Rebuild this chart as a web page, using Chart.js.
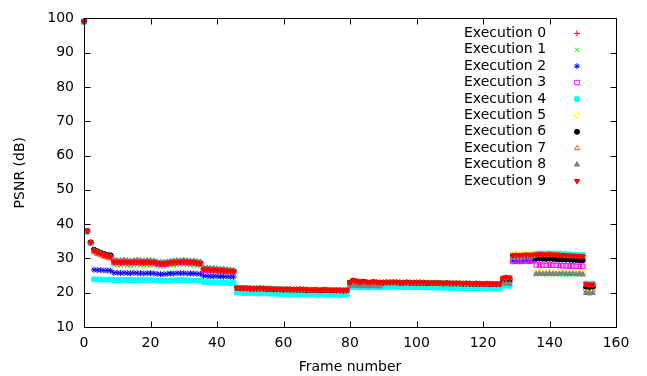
<!DOCTYPE html>
<html>
<head>
<meta charset="utf-8">
<script src="https://cdn.jsdelivr.net/npm/chart.js"></script>
<style>
html, body { margin: 0; padding: 0; background: #fff; }
</style>
</head>
<body>
<canvas id="psnrChart" width="647" height="376"></canvas>
<script>
// Frame numbers (x axis)
var frames = [0, 1, 2, 3, 4, 5, 6, 7, 8, 9,
  10, 11, 12, 13, 14, 15, 16, 17, 18, 19,
  20, 21, 22, 23, 24, 25, 26, 27, 28, 29,
  30, 31, 32, 33, 34, 35, 36, 37, 38, 39,
  40, 41, 42, 43, 44, 45, 46, 47, 48, 49,
  50, 51, 52, 53, 54, 55, 56, 57, 58, 59,
  60, 61, 62, 63, 64, 65, 66, 67, 68, 69,
  70, 71, 72, 73, 74, 75, 76, 77, 78, 79,
  80, 81, 82, 83, 84, 85, 86, 87, 88, 89,
  90, 91, 92, 93, 94, 95, 96, 97, 98, 99,
  100, 101, 102, 103, 104, 105, 106, 107, 108, 109,
  110, 111, 112, 113, 114, 115, 116, 117, 118, 119,
  120, 121, 122, 123, 124, 125, 126, 127, 128, 129,
  130, 131, 132, 133, 134, 135, 136, 137, 138, 139,
  140, 141, 142, 143, 144, 145, 146, 147, 148, 149,
  150, 151, 152, 153];

// PSNR per frame, one array per execution
var exec0 = [99.1, 38.0, 34.6, 32.4, 31.9, 31.5, 31.1, 30.8, 30.6,
  29.1, 29.0, 29.0, 29.1, 29.0, 28.9, 29.0, 29.1, 29.0, 28.9, 29.0, 29.0, 28.9,
  28.6, 28.5, 28.5, 28.6,
  28.8, 28.9, 29.0, 29.0, 29.1, 29.0, 28.9, 28.9,
  28.7, 28.6,
  26.8, 26.8, 26.7, 26.7, 26.6, 26.5, 26.5, 26.4, 26.3, 26.2,
  21.4, 21.4, 21.3, 21.3, 21.3, 21.2, 21.2, 21.3, 21.2, 21.2,
  21.1, 21.1, 21.0, 21.0, 21.0, 21.0, 20.9, 20.9, 20.9, 21.0,
  20.9, 20.9, 20.8, 20.8, 20.8, 20.8, 20.9, 20.8, 20.8, 20.7,
  20.7, 20.7, 20.7, 20.8,
  23.0, 23.6, 23.4, 23.2, 23.3, 23.1, 23.0, 23.2, 23.1, 23.0,
  23.0, 23.0, 23.0, 23.1, 23.0, 23.0, 22.9, 23.0, 23.0, 22.9,
  23.0, 23.0, 22.9, 22.9, 22.9, 22.8, 22.9, 22.8, 22.8, 22.8,
  22.8, 22.7, 22.8, 22.7, 22.7, 22.7, 22.7, 22.6, 22.7, 22.6,
  22.6, 22.6, 22.6, 22.6, 22.5, 22.6,
  24.2, 24.4, 24.3,
  30.8, 30.9, 30.8, 30.9, 31.0, 30.9, 31.0,
  31.2, 31.3, 31.3, 31.2, 31.3, 31.2, 31.2, 31.1, 31.0, 31.0, 30.9, 30.9, 30.8, 30.8, 30.7,
  22.6, 22.4, 22.5];

var exec1 = [99.0, 37.9, 34.5, 32.2, 31.7, 31.3, 30.9, 30.6, 30.4,
  28.1, 28.0, 28.0, 28.1, 28.0, 27.9, 28.0, 28.1, 28.0, 27.9, 28.0, 28.0, 27.9,
  27.7, 27.6, 27.6, 27.7,
  27.9, 28.0, 28.1, 28.1, 28.2, 28.1, 28.0, 28.0,
  27.8, 27.7,
  26.4, 26.4, 26.3, 26.3, 26.2, 26.1, 26.1, 26.0, 25.9, 25.8,
  21.3, 21.3, 21.2, 21.2, 21.2, 21.1, 21.1, 21.2, 21.1, 21.1,
  21.0, 21.0, 20.9, 20.9, 20.9, 20.9, 20.8, 20.8, 20.8, 20.9,
  20.8, 20.8, 20.7, 20.7, 20.7, 20.7, 20.8, 20.7, 20.7, 20.6,
  20.6, 20.6, 20.6, 20.7,
  22.7, 23.0, 22.9, 22.8, 22.8, 22.7, 22.6, 22.8, 22.7, 22.6,
  22.9, 22.9, 22.9, 23.0, 22.9, 22.9, 22.8, 22.9, 22.9, 22.8,
  22.9, 22.9, 22.8, 22.8, 22.8, 22.7, 22.8, 22.7, 22.7, 22.7,
  22.7, 22.6, 22.7, 22.6, 22.6, 22.6, 22.6, 22.5, 22.6, 22.5,
  22.5, 22.5, 22.5, 22.5, 22.4, 22.5,
  22.9, 23.1, 23.0,
  30.4, 30.5, 30.4, 30.5, 30.6, 30.5, 30.6,
  25.3, 25.4, 25.3, 25.3, 25.4, 25.3, 25.3, 25.2, 25.3, 25.2, 25.2, 25.3, 25.2, 25.2, 25.1,
  20.1, 20.0, 20.1];

var exec2 = [99.0, 37.9, 34.5, 26.7, 26.6, 26.6, 26.5, 26.5, 26.4,
  25.8, 25.8, 25.7, 25.8, 25.7, 25.7, 25.8, 25.7, 25.7, 25.6, 25.7, 25.7, 25.6,
  25.5, 25.4, 25.4, 25.5,
  25.6, 25.6, 25.7, 25.7, 25.7, 25.6, 25.6, 25.6,
  25.5, 25.5,
  24.9, 24.9, 24.8, 24.8, 24.8, 24.7, 24.7, 24.7, 24.6, 24.6,
  21.0, 21.0, 20.9, 20.9, 20.9, 20.8, 20.8, 20.9, 20.8, 20.8,
  20.7, 20.7, 20.7, 20.6, 20.6, 20.6, 20.6, 20.6, 20.5, 20.6,
  20.5, 20.5, 20.5, 20.4, 20.4, 20.4, 20.5, 20.4, 20.4, 20.4,
  20.3, 20.3, 20.3, 20.4,
  22.3, 22.6, 22.5, 22.4, 22.4, 22.3, 22.3, 22.4, 22.3, 22.3,
  22.5, 22.5, 22.5, 22.6, 22.5, 22.5, 22.4, 22.5, 22.5, 22.4,
  22.5, 22.5, 22.4, 22.4, 22.4, 22.3, 22.4, 22.3, 22.3, 22.3,
  22.3, 22.2, 22.3, 22.2, 22.2, 22.2, 22.2, 22.1, 22.2, 22.1,
  22.1, 22.1, 22.1, 22.1, 22.0, 22.1,
  23.0, 23.2, 23.1,
  29.3, 29.3, 29.2, 29.3, 29.4, 29.3, 29.4,
  29.8, 29.9, 29.8, 29.8, 29.9, 29.8, 29.7, 29.7, 29.6, 29.6, 29.6, 29.5, 29.5, 29.5, 29.4,
  21.5, 21.4, 21.5];

var exec3 = [99.1, 37.9, 34.5, 32.3, 31.8, 31.4, 31.0, 30.7, 30.5,
  28.8, 28.8, 28.7, 28.8, 28.8, 28.7, 28.8, 28.8, 28.7, 28.7, 28.8, 28.7, 28.7,
  28.4, 28.3, 28.3, 28.4,
  28.6, 28.7, 28.8, 28.8, 28.8, 28.8, 28.7, 28.7,
  28.5, 28.4,
  26.6, 26.6, 26.5, 26.5, 26.4, 26.3, 26.3, 26.2, 26.2, 26.1,
  21.3, 21.3, 21.2, 21.2, 21.2, 21.1, 21.1, 21.2, 21.1, 21.1,
  21.0, 21.0, 20.9, 20.9, 20.9, 20.9, 20.9, 20.8, 20.8, 20.9,
  20.8, 20.8, 20.7, 20.7, 20.7, 20.7, 20.8, 20.7, 20.7, 20.7,
  20.6, 20.6, 20.6, 20.7,
  22.8, 23.2, 23.1, 22.9, 23.0, 22.9, 22.8, 23.0, 22.9, 22.8,
  22.9, 22.9, 22.9, 23.0, 22.9, 22.9, 22.8, 22.9, 22.9, 22.8,
  22.9, 22.9, 22.8, 22.8, 22.8, 22.7, 22.8, 22.7, 22.7, 22.7,
  22.7, 22.6, 22.7, 22.6, 22.6, 22.6, 22.6, 22.5, 22.6, 22.5,
  22.5, 22.5, 22.5, 22.5, 22.4, 22.5,
  23.6, 23.8, 23.7,
  29.1, 29.2, 29.1, 29.2, 29.3, 29.2, 29.3,
  28.1, 28.1, 28.0, 28.0, 28.1, 28.0, 28.0, 27.9, 27.9, 27.8, 27.8, 27.8, 27.7, 27.7, 27.7,
  21.0, 20.9, 21.0];

var exec4 = [98.9, 37.8, 34.4, 23.9, 23.9, 23.8, 23.8, 23.8, 23.8,
  23.7, 23.7, 23.7, 23.8, 23.7, 23.7, 23.7, 23.7, 23.7, 23.6, 23.7, 23.7, 23.6,
  23.5, 23.5, 23.5, 23.5,
  23.6, 23.6, 23.7, 23.7, 23.7, 23.6, 23.6, 23.6,
  23.5, 23.5,
  23.1, 23.1, 23.0, 23.0, 23.0, 22.9, 22.9, 22.9, 22.8, 22.8,
  20.0, 20.0, 19.9, 19.9, 19.9, 19.9, 19.8, 19.9, 19.8, 19.8,
  19.7, 19.7, 19.7, 19.6, 19.6, 19.6, 19.6, 19.6, 19.5, 19.6,
  19.5, 19.5, 19.5, 19.5, 19.4, 19.4, 19.5, 19.4, 19.4, 19.4,
  19.4, 19.3, 19.4, 19.4,
  21.5, 21.7, 21.6, 21.5, 21.6, 21.5, 21.5, 21.6, 21.5, 21.5,
  21.7, 21.7, 21.7, 21.8, 21.7, 21.7, 21.6, 21.7, 21.7, 21.6,
  21.6, 21.6, 21.6, 21.5, 21.5, 21.5, 21.5, 21.5, 21.4, 21.5,
  21.4, 21.4, 21.4, 21.4, 21.3, 21.3, 21.4, 21.3, 21.3, 21.3,
  21.3, 21.2, 21.3, 21.2, 21.2, 21.2,
  21.9, 22.1, 22.0,
  30.5, 30.6, 30.5, 30.6, 30.7, 30.6, 30.7,
  31.4, 31.5, 31.4, 31.4, 31.5, 31.4, 31.4, 31.3, 31.3, 31.2, 31.2, 31.1, 31.1, 31.0, 31.0,
  22.7, 22.5, 22.6];

var exec5 = [99.1, 38.0, 34.6, 32.5, 32.0, 31.6, 31.2, 30.9, 30.7,
  29.3, 29.2, 29.2, 29.3, 29.2, 29.1, 29.2, 29.3, 29.2, 29.1, 29.2, 29.2, 29.1,
  28.8, 28.7, 28.7, 28.8,
  29.0, 29.1, 29.2, 29.2, 29.3, 29.2, 29.1, 29.1,
  28.9, 28.8,
  27.0, 27.0, 26.9, 26.9, 26.8, 26.7, 26.7, 26.6, 26.5, 26.4,
  21.5, 21.4, 21.4, 21.3, 21.3, 21.3, 21.2, 21.3, 21.3, 21.2,
  21.2, 21.1, 21.1, 21.0, 21.1, 21.0, 21.0, 20.9, 21.0, 21.0,
  20.9, 20.9, 20.9, 20.8, 20.9, 20.8, 20.9, 20.9, 20.8, 20.8,
  20.7, 20.8, 20.7, 20.8,
  23.1, 23.5, 23.3, 23.1, 23.2, 23.0, 23.0, 23.1, 23.0, 22.9,
  23.0, 23.1, 23.0, 23.1, 23.1, 23.0, 23.0, 23.0, 23.0, 23.0,
  23.0, 22.9, 22.9, 22.9, 22.8, 22.8, 22.9, 22.8, 22.8, 22.8,
  22.7, 22.7, 22.8, 22.7, 22.7, 22.7, 22.6, 22.6, 22.7, 22.6,
  22.6, 22.6, 22.5, 22.6, 22.5, 22.5,
  24.0, 24.3, 24.1,
  31.2, 31.3, 31.2, 31.3, 31.4, 31.3, 31.4,
  26.1, 26.1, 26.0, 26.0, 26.1, 26.0, 26.0, 26.0, 26.1, 26.0, 26.0, 26.0, 25.9, 26.0, 25.9,
  20.3, 20.2, 20.3];

var exec6 = [99.1, 38.0, 34.7, 32.6, 32.1, 31.7, 31.3, 31.0, 30.9,
  29.2, 29.1, 29.1, 29.2, 29.1, 29.0, 29.1, 29.2, 29.1, 29.0, 29.1, 29.1, 29.0,
  28.7, 28.6, 28.6, 28.7,
  28.9, 29.0, 29.1, 29.1, 29.2, 29.1, 29.0, 29.0,
  28.8, 28.7,
  26.9, 26.9, 26.8, 26.8, 26.7, 26.6, 26.6, 26.5, 26.4, 26.3,
  21.4, 21.3, 21.3, 21.3, 21.2, 21.2, 21.2, 21.2, 21.2, 21.1,
  21.1, 21.0, 21.0, 21.0, 20.9, 21.0, 20.9, 20.9, 20.9, 20.9,
  20.9, 20.8, 20.8, 20.8, 20.8, 20.7, 20.8, 20.8, 20.7, 20.7,
  20.7, 20.7, 20.6, 20.7,
  22.9, 23.4, 23.2, 23.0, 23.1, 23.0, 22.9, 23.1, 23.0, 22.9,
  22.9, 23.0, 23.0, 23.0, 23.0, 22.9, 22.9, 23.0, 22.9, 22.9,
  22.9, 22.9, 22.9, 22.8, 22.8, 22.8, 22.8, 22.8, 22.7, 22.8,
  22.7, 22.7, 22.7, 22.7, 22.6, 22.7, 22.6, 22.6, 22.6, 22.6,
  22.5, 22.6, 22.5, 22.5, 22.5, 22.5,
  23.8, 24.0, 23.9,
  30.6, 30.7, 30.6, 30.7, 30.8, 30.7, 30.8,
  30.0, 30.1, 30.0, 29.9, 30.0, 29.9, 29.9, 29.8, 29.8, 29.7, 29.7, 29.6, 29.6, 29.5, 29.5,
  21.8, 21.7, 21.8];

var exec7 = [99.1, 38.0, 34.5, 31.8, 31.3, 30.9, 30.5, 30.2, 30.0,
  28.9, 28.9, 28.8, 28.9, 28.9, 28.8, 28.9, 28.9, 28.8, 28.8, 28.9, 28.8, 28.8,
  28.5, 28.4, 28.4, 28.5,
  28.7, 28.8, 28.9, 28.9, 29.0, 28.9, 28.8, 28.8,
  28.6, 28.5,
  26.7, 26.7, 26.6, 26.6, 26.5, 26.4, 26.4, 26.3, 26.2, 26.1,
  21.3, 21.3, 21.2, 21.2, 21.2, 21.1, 21.1, 21.2, 21.1, 21.1,
  21.0, 21.0, 20.9, 20.9, 20.9, 20.9, 20.9, 20.8, 20.8, 20.9,
  20.8, 20.8, 20.7, 20.7, 20.7, 20.7, 20.8, 20.7, 20.7, 20.7,
  20.6, 20.6, 20.6, 20.7,
  23.0, 23.5, 23.3, 23.1, 23.2, 23.0, 22.9, 23.1, 23.0, 22.9,
  22.9, 22.9, 22.9, 23.0, 22.9, 22.9, 22.8, 22.9, 22.9, 22.8,
  22.9, 22.9, 22.8, 22.8, 22.8, 22.7, 22.8, 22.7, 22.7, 22.7,
  22.7, 22.6, 22.7, 22.6, 22.6, 22.6, 22.6, 22.5, 22.6, 22.5,
  22.5, 22.5, 22.5, 22.5, 22.4, 22.5,
  24.1, 24.3, 24.2,
  30.7, 30.8, 30.7, 30.8, 30.9, 30.8, 30.9,
  31.0, 31.1, 31.1, 31.0, 31.1, 31.0, 31.0, 30.9, 30.9, 30.8, 30.8, 30.7, 30.7, 30.6, 30.6,
  22.3, 22.2, 22.3];

var exec8 = [99.1, 38.0, 34.6, 32.4, 31.9, 31.5, 31.1, 30.8, 30.6,
  29.5, 29.4, 29.4, 29.5, 29.4, 29.3, 29.4, 29.5, 29.4, 29.3, 29.4, 29.4, 29.3,
  29.0, 28.9, 28.9, 29.0,
  29.2, 29.3, 29.4, 29.4, 29.5, 29.4, 29.3, 29.3,
  29.1, 29.0,
  27.2, 27.2, 27.1, 27.1, 27.0, 26.9, 26.9, 26.8, 26.7, 26.6,
  21.5, 21.4, 21.4, 21.3, 21.3, 21.3, 21.2, 21.3, 21.3, 21.2,
  21.2, 21.1, 21.1, 21.0, 21.1, 21.0, 21.0, 20.9, 21.0, 21.0,
  20.9, 20.9, 20.9, 20.8, 20.9, 20.8, 20.9, 20.9, 20.8, 20.8,
  20.7, 20.8, 20.7, 20.8,
  21.9, 22.1, 22.0, 21.9, 22.0, 21.9, 21.9, 22.0, 21.9, 21.9,
  22.9, 22.9, 22.9, 23.0, 22.9, 22.9, 22.8, 22.9, 22.9, 22.8,
  22.9, 22.9, 22.8, 22.8, 22.8, 22.7, 22.8, 22.7, 22.7, 22.7,
  22.7, 22.6, 22.7, 22.6, 22.6, 22.6, 22.6, 22.5, 22.6, 22.5,
  22.5, 22.5, 22.5, 22.5, 22.4, 22.5,
  22.6, 22.7, 22.6,
  30.4, 30.5, 30.4, 30.5, 30.6, 30.5, 30.6,
  25.5, 25.6, 25.5, 25.5, 25.6, 25.5, 25.5, 25.5, 25.6, 25.5, 25.5, 25.5, 25.4, 25.5, 25.4,
  19.9, 19.8, 19.9];

var exec9 = [99.1, 38.1, 34.6, 32.3, 31.8, 31.4, 31.0, 30.7, 30.5,
  29.0, 29.0, 28.9, 29.0, 29.0, 28.9, 29.0, 29.0, 28.9, 28.9, 29.0, 28.9, 28.9,
  28.6, 28.5, 28.5, 28.6,
  28.8, 28.9, 29.0, 29.0, 29.1, 29.0, 28.9, 28.9,
  28.7, 28.6,
  26.8, 26.8, 26.7, 26.7, 26.6, 26.5, 26.5, 26.4, 26.3, 26.2,
  21.4, 21.4, 21.3, 21.3, 21.3, 21.2, 21.2, 21.3, 21.2, 21.2,
  21.1, 21.1, 21.0, 21.0, 21.0, 21.0, 20.9, 20.9, 20.9, 21.0,
  20.9, 20.9, 20.8, 20.8, 20.8, 20.8, 20.9, 20.8, 20.8, 20.7,
  20.7, 20.7, 20.7, 20.8,
  23.1, 23.7, 23.4, 23.2, 23.4, 23.1, 23.0, 23.2, 23.1, 23.0,
  23.0, 23.0, 23.0, 23.1, 23.0, 23.0, 22.9, 23.0, 23.0, 22.9,
  23.0, 23.0, 22.9, 22.9, 22.9, 22.8, 22.9, 22.8, 22.8, 22.8,
  22.8, 22.7, 22.8, 22.7, 22.7, 22.7, 22.7, 22.6, 22.7, 22.6,
  22.6, 22.6, 22.6, 22.6, 22.5, 22.6,
  24.3, 24.5, 24.4,
  30.9, 31.0, 30.9, 31.0, 31.1, 31.0, 31.1,
  31.1, 31.2, 31.2, 31.1, 31.2, 31.1, 31.1, 31.0, 30.9, 30.9, 30.8, 30.8, 30.7, 30.7, 30.6,
  22.5, 22.3, 22.4];

var series = [exec0, exec1, exec2, exec3, exec4, exec5, exec6, exec7, exec8, exec9];
var labels = ['Execution 0', 'Execution 1', 'Execution 2', 'Execution 3', 'Execution 4',
  'Execution 5', 'Execution 6', 'Execution 7', 'Execution 8', 'Execution 9'];
var xTicks = [0, 20, 40, 60, 80, 100, 120, 140, 160];
var yTicks = [10, 20, 30, 40, 50, 60, 70, 80, 90, 100];

// gnuplot-like point styles
var colors = ['#ff0000', '#00ff00', '#0000ff', '#ff00ff', '#00ffff', '#ffff00', '#000000', '#ff5a00', '#808080', '#ff0000'];
var shapes = ['cross', 'crossRot', 'star', 'rect', 'rect', 'circle', 'circle', 'triangle', 'triangle', 'triangle'];
var filled = [false, false, false, false, true, false, true, false, true, true];
var turns = [0, 0, 0, 0, 0, 0, 0, 0, 0, 180];
var sizes = [3, 3, 3, 3.2, 3.2, 2.5, 2.5, 3, 3, 3];

Chart.defaults.font.family = '"DejaVu Sans", sans-serif';
Chart.defaults.font.size = 14;
Chart.defaults.color = '#000';

var datasets = series.map(function (vals, i) {
  return {
    label: labels[i],
    data: frames.map(function (f, j) { return { x: f, y: vals[j] }; }),
    borderColor: colors[i],
    backgroundColor: filled[i] ? colors[i] : 'rgba(0,0,0,0)',
    pointStyle: shapes[i],
    pointRotation: turns[i],
    pointRadius: sizes[i],
    pointHoverRadius: sizes[i],
    pointBorderWidth: 1,
    showLine: false,
    clip: false,
    order: 9 - i
  };
});

// frame, inward ticks (also mirrored) and the key inside the plot
var gnuplotFrame = {
  id: 'gnuplotFrame',
  afterDraw: function (chart) {
    var ctx = chart.ctx, a = chart.chartArea;
    var xs = chart.scales.x, ys = chart.scales.y;
    var L = Math.round(a.left) + 0.5, R = Math.round(a.right) + 0.5;
    var T = Math.round(a.top) + 0.5, B = Math.round(a.bottom) + 0.5;
    ctx.save();
    ctx.strokeStyle = '#000';
    ctx.lineWidth = 1;
    ctx.strokeRect(L, T, R - L, B - T);
    ctx.beginPath();
    xTicks.forEach(function (v) {
      var px = Math.round(xs.getPixelForValue(v)) + 0.5;
      ctx.moveTo(px, B); ctx.lineTo(px, B - 6);
      ctx.moveTo(px, T); ctx.lineTo(px, T + 6);
    });
    yTicks.forEach(function (v) {
      var py = Math.round(ys.getPixelForValue(v)) + 0.5;
      ctx.moveTo(L, py); ctx.lineTo(L + 6, py);
      ctx.moveTo(R, py); ctx.lineTo(R - 6, py);
    });
    ctx.stroke();

    ctx.font = '14px "DejaVu Sans"';
    ctx.textAlign = 'left';
    ctx.textBaseline = 'middle';
    chart.data.datasets.forEach(function (ds, i) {
      var y = a.top + 15 + i * 16.4;
      ctx.fillStyle = '#000';
      ctx.fillText(ds.label, a.right - 152, y);
      ctx.strokeStyle = ds.borderColor;
      ctx.fillStyle = ds.backgroundColor;
      ctx.lineWidth = 1;
      Chart.helpers.drawPoint(ctx, {
        pointStyle: ds.pointStyle,
        rotation: ds.pointRotation,
        radius: ds.pointRadius,
        borderWidth: 1
      }, a.right - 39, y);
    });
    ctx.restore();
  }
};

new Chart(document.getElementById('psnrChart'), {
  type: 'scatter',
  data: { datasets: datasets },
  options: {
    responsive: false,
    animation: false,
    layout: { padding: { top: 16, right: 31, left: 0, bottom: 0 } },
    plugins: { legend: { display: false }, tooltip: { enabled: false } },
    scales: {
      x: {
        type: 'linear',
        min: 0,
        max: 160,
        grid: { display: false, drawTicks: false },
        border: { display: false },
        ticks: { stepSize: 20, padding: 8, maxRotation: 0 },
        title: { display: true, text: 'Frame number', padding: { top: 0, bottom: 0 } },
        afterFit: function (s) { s.height = 49; }
      },
      y: {
        min: 10,
        max: 100,
        grid: { display: false, drawTicks: false },
        border: { display: false },
        ticks: { stepSize: 10, padding: 10 },
        title: { display: true, text: 'PSNR (dB)', padding: { top: 12, bottom: 0 } },
        afterFit: function (s) { s.width = 84; }
      }
    }
  },
  plugins: [gnuplotFrame]
});
</script>
</body>
</html>
